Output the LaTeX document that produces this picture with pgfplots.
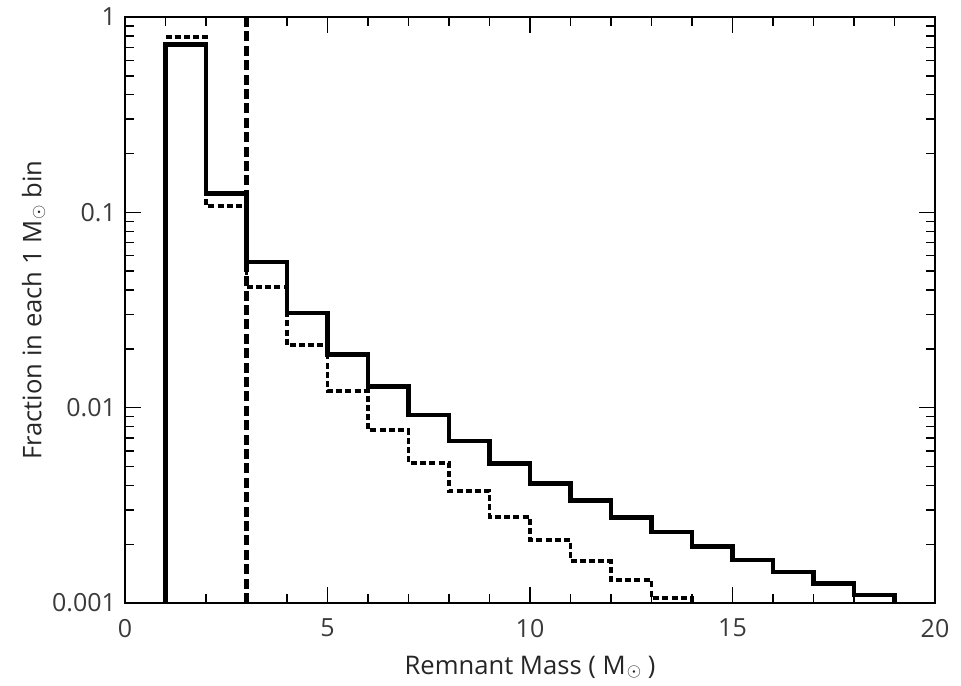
\documentclass[border=0pt]{standalone}
\usepackage{fontspec}
\setmainfont{Open Sans}
\usepackage{pgfplots}
\pgfplotsset{compat=1.18}
\definecolor{ticklab}{HTML}{3A3A3A}
\newcommand{\Msun}{M\kern0.5pt\raisebox{-1.2pt}{$\scriptstyle\odot$}}
\begin{document}
\begin{tikzpicture}
\begin{axis}[
  scale only axis,
  width=405pt, height=293pt,
  xmin=0, xmax=20,
  ymode=log, ymin=0.001, ymax=1,
  xtick={0,5,10,15,20},
  minor xtick={1,2,3,4,6,7,8,9,11,12,13,14,16,17,18,19},
  ytick={0.001,0.01,0.1,1},
  yticklabels={0.001,0.01,0.1,1},
  tick align=inside,
  xtick pos=both, ytick pos=both,
  major tick length=8pt, minor tick length=4.5pt,
  every tick/.style={black, line width=0.7pt},
  axis line style={line width=1pt},
  tick label style={font=\fontsize{12.5}{14}\selectfont, text=ticklab},
  label style={font=\fontsize{12.8}{15}\selectfont, text=black!85},
  /pgf/number format/assume math mode=true,
  xlabel={Remnant Mass ( \Msun\ )},
  ylabel={Fraction in each 1 \Msun\ bin},
  xlabel style={yshift=-2.5pt},
  ylabel style={yshift=-3.5pt},
  xticklabel style={yshift=-4.5pt},
  yticklabel style={xshift=-1pt},
]
\addplot[const plot mark left, black, line width=2.4pt, line join=miter] coordinates {
(1,0.0005) (1,0.72) (2,0.125) (3,0.0557) (4,0.0305) (5,0.0188) (6,0.0128) (7,0.00917)
(8,0.00675) (9,0.0052) (10,0.00411) (11,0.00336) (12,0.00275) (13,0.00231)
(14,0.00195) (15,0.00166) (16,0.00144) (17,0.00126) (18,0.0011) (19,0.0005)
};
\addplot[const plot mark left, black, line width=1.9pt, dash pattern=on 3pt off 1.6pt] coordinates {
(1,0.79) (2,0.108) (3,0.0415) (4,0.0209) (5,0.0122) (6,0.00768) (7,0.0052)
(8,0.00374) (9,0.00275) (10,0.0021) (11,0.00164) (12,0.00131) (13,0.00106) (14,0.0005)
};
\addplot[black, line width=2.4pt, dash pattern=on 5pt off 2.2pt] coordinates {(3,0.001) (3,1)};
\end{axis}
\path (-62.5pt,-40pt) rectangle (418pt,301.5pt);
\end{tikzpicture}
\end{document}
